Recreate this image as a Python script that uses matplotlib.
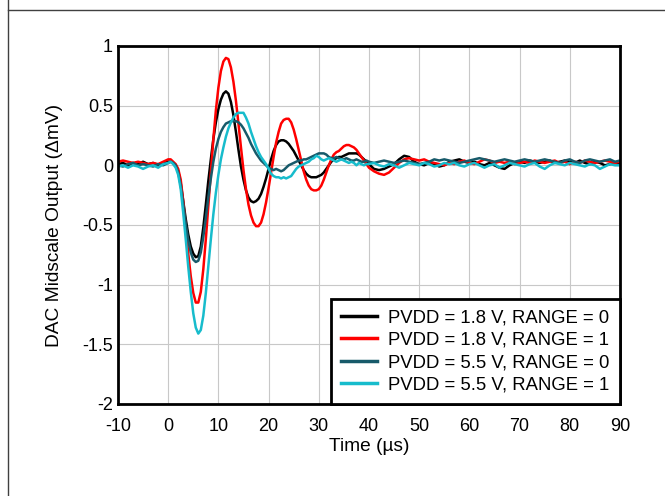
import numpy as np
import matplotlib
matplotlib.use("Agg")
import matplotlib.pyplot as plt
from matplotlib.lines import Line2D

plt.rcParams["font.family"] = ["Liberation Sans", "DejaVu Sans"]
plt.rcParams["axes.unicode_minus"] = False

# time grid (µs): coarse before the step, fine during the transient, coarse tail
time_us = np.concatenate([
    np.arange(-10, 0.5, 1.0),
    np.arange(0.5, 40.25, 0.5),
    np.arange(41, 90.5, 1.0),
])

black_18_r0 = [
    0.01, 0.02, 0.00, 0.02, 0.01, 0.03, 0.01, 0.02, 0.00, 0.02, 0.03,
    0.03, 0.02, 0.00, -0.05, -0.15, -0.30, -0.45, -0.58, -0.68, -0.74,
    -0.77, -0.76, -0.68, -0.52, -0.33, -0.13, 0.05, 0.22, 0.36, 0.47,
    0.55, 0.60, 0.62, 0.60, 0.53, 0.42, 0.28, 0.13, -0.01, -0.12,
    -0.21, -0.27, -0.30, -0.31, -0.30, -0.28, -0.24, -0.18, -0.11, -0.03,
    0.05, 0.12, 0.17, 0.20, 0.21, 0.21, 0.20, 0.18, 0.15, 0.12,
    0.08, 0.04, 0.00, -0.04, -0.07, -0.09, -0.10, -0.10, -0.10, -0.09,
    -0.08, -0.06, -0.03, 0.00, 0.03, 0.05, 0.06, 0.07, 0.07, 0.08,
    0.09, 0.10, 0.10, 0.10, 0.10, 0.09, 0.07, 0.05, 0.03, 0.01,
    -0.03, -0.04, -0.03, -0.01, 0.01, 0.05, 0.08, 0.07, 0.03, 0.01,
    0.00, 0.02, 0.01, -0.01, 0.00, 0.03, 0.04, 0.05, 0.03, 0.02,
    0.03, 0.01, 0.00, 0.02, 0.00, -0.02, -0.03, 0.00, 0.02, 0.03,
    0.02, 0.04, 0.03, 0.02, 0.03, 0.04, 0.02, 0.03, 0.04, 0.03,
    0.02, 0.04, 0.02, 0.01, 0.03, 0.02, 0.00, 0.01, 0.02, 0.01,
]

red_18_r1 = [
    0.03, 0.04, 0.03, 0.02, 0.03, 0.02, 0.01, 0.02, 0.01, 0.03, 0.05,
    0.05, 0.03, 0.01, -0.03, -0.12, -0.30, -0.52, -0.74, -0.93, -1.07,
    -1.15, -1.15, -1.06, -0.87, -0.62, -0.34, -0.05, 0.22, 0.46, 0.65,
    0.79, 0.87, 0.90, 0.89, 0.82, 0.70, 0.54, 0.35, 0.15, -0.04,
    -0.20, -0.33, -0.42, -0.48, -0.51, -0.51, -0.48, -0.41, -0.31, -0.19,
    -0.06, 0.07, 0.19, 0.28, 0.35, 0.38, 0.39, 0.39, 0.36, 0.30,
    0.22, 0.13, 0.04, -0.05, -0.12, -0.17, -0.20, -0.21, -0.21, -0.20,
    -0.17, -0.12, -0.06, 0.00, 0.05, 0.09, 0.11, 0.12, 0.14, 0.16,
    0.17, 0.17, 0.16, 0.15, 0.13, 0.10, 0.07, 0.04, 0.01, -0.02,
    -0.05, -0.07, -0.08, -0.06, -0.02, 0.02, 0.05, 0.06, 0.05, 0.04,
    0.05, 0.03, 0.02, 0.01, 0.00, 0.02, 0.01, 0.03, 0.04, 0.02,
    0.01, 0.03, 0.05, 0.04, 0.02, 0.03, 0.02, 0.03, 0.01, 0.02,
    0.03, 0.02, 0.04, 0.03, 0.02, 0.03, 0.04, 0.02, 0.03, 0.01,
    0.03, 0.02, 0.04, 0.03, 0.02, 0.03, 0.04, 0.03, 0.02, 0.03,
]

teal_55_r0 = [
    0.00, -0.01, 0.01, 0.02, 0.00, 0.01, 0.00, -0.01, 0.01, 0.00, 0.02,
    0.03, 0.02, 0.00, -0.06, -0.17, -0.33, -0.49, -0.63, -0.73, -0.79,
    -0.81, -0.80, -0.73, -0.60, -0.44, -0.27, -0.11, 0.03, 0.14, 0.22,
    0.28, 0.32, 0.35, 0.36, 0.37, 0.37, 0.37, 0.36, 0.34, 0.31,
    0.27, 0.23, 0.18, 0.14, 0.10, 0.07, 0.04, 0.02, 0.00, -0.02,
    -0.03, -0.04, -0.03, -0.04, -0.05, -0.04, -0.02, 0.00, 0.01, 0.02,
    0.03, 0.04, 0.04, 0.05, 0.05, 0.06, 0.07, 0.08, 0.09, 0.10,
    0.10, 0.10, 0.09, 0.07, 0.06, 0.06, 0.07, 0.06, 0.05, 0.05,
    0.06, 0.05, 0.04, 0.04, 0.05, 0.04, 0.03, 0.03, 0.04, 0.03,
    0.02, 0.03, 0.04, 0.03, 0.02, 0.03, 0.04, 0.03, 0.02, 0.01,
    0.02, 0.03, 0.05, 0.04, 0.05, 0.04, 0.03, 0.02, 0.03, 0.04,
    0.05, 0.06, 0.05, 0.04, 0.03, 0.04, 0.05, 0.04, 0.03, 0.04,
    0.05, 0.04, 0.03, 0.04, 0.05, 0.04, 0.03, 0.02, 0.04, 0.05,
    0.03, 0.02, 0.04, 0.05, 0.04, 0.03, 0.04, 0.05, 0.03, 0.04,
]

cyan_55_r1 = [
    -0.01, 0.00, -0.02, 0.00, -0.01, -0.03, -0.01, 0.00, -0.02, 0.01, 0.02,
    0.03, 0.01, -0.02, -0.08, -0.20, -0.40, -0.62, -0.85, -1.06, -1.24,
    -1.36, -1.41, -1.38, -1.26, -1.07, -0.84, -0.62, -0.41, -0.23, -0.08,
    0.05, 0.15, 0.24, 0.31, 0.36, 0.40, 0.43, 0.44, 0.44, 0.44,
    0.40, 0.35, 0.28, 0.22, 0.16, 0.11, 0.07, 0.04, 0.01, -0.03,
    -0.07, -0.09, -0.10, -0.10, -0.11, -0.10, -0.11, -0.10, -0.09, -0.06,
    -0.03, -0.01, 0.00, 0.01, 0.02, 0.03, 0.05, 0.06, 0.08, 0.07,
    0.05, 0.04, 0.05, 0.06, 0.05, 0.04, 0.03, 0.04, 0.05, 0.04,
    0.03, 0.02, 0.03, 0.02, 0.00, 0.02, 0.01, 0.00, 0.01, 0.01,
    0.02, 0.00, -0.01, 0.01, 0.00, -0.02, 0.00, 0.02, 0.01, 0.00,
    0.02, 0.01, -0.01, 0.00, 0.02, 0.01, 0.02, 0.00, -0.01, 0.01,
    0.02, 0.00, -0.02, 0.00, 0.01, -0.02, 0.00, 0.02, 0.01, 0.00,
    -0.01, 0.01, 0.02, -0.01, -0.03, 0.00, 0.02, 0.01, 0.00, 0.02,
    0.01, 0.00, -0.01, 0.01, 0.00, -0.03, -0.01, 0.01, 0.00, 0.00,
]

series = [
    ("PVDD = 1.8 V, RANGE = 0", black_18_r0, "#000000"),
    ("PVDD = 1.8 V, RANGE = 1", red_18_r1, "#ff0000"),
    ("PVDD = 5.5 V, RANGE = 0", teal_55_r0, "#175a6a"),
    ("PVDD = 5.5 V, RANGE = 1", cyan_55_r1, "#17bccc"),
]

fig = plt.figure(figsize=(6.65, 4.96), dpi=100)
ax = fig.add_axes([0.1774, 0.1855, 0.7549, 0.7218])

for label, vals, col in series:
    ax.plot(time_us, vals, color=col, lw=1.8, label=label)

ax.set_xlim(-10, 90)
ax.set_ylim(-2, 1)
ax.set_xticks(np.arange(-10, 91, 10))
ax.set_yticks([-2, -1.5, -1, -0.5, 0, 0.5, 1])
ax.set_yticklabels(["-2", "-1.5", "-1", "-0.5", "0", "0.5", "1"])
ax.tick_params(length=0, labelsize=13)
ax.tick_params(axis="x", pad=10)
ax.tick_params(axis="y", pad=3.5)
ax.grid(True, color="#c8c8c8", lw=0.8)
ax.set_axisbelow(True)
for sp in ax.spines.values():
    sp.set_linewidth(2)

ax.set_xlabel("Time (µs)", fontsize=13.8, va="center")
ax.set_ylabel("DAC Midscale Output (ΔmV)", fontsize=13.8, va="center")
ax.xaxis.set_label_coords(0.5, -0.12)
ax.yaxis.set_label_coords(-0.1255, 0.5)

leg = ax.legend(loc="lower right", bbox_to_anchor=(1, 0), borderaxespad=0,
                fontsize=13.3, frameon=True, fancybox=False, framealpha=1,
                handlelength=1.95, handletextpad=0.6, labelspacing=0.3,
                borderpad=0.55)
leg.get_frame().set_edgecolor("black")
leg.get_frame().set_linewidth(2)
for h in leg.get_lines():
    h.set_linewidth(2.5)

# page frame lines
fig.add_artist(Line2D([8 / 665, 8 / 665], [0, 1], transform=fig.transFigure,
                      color="#404040", lw=1))
fig.add_artist(Line2D([8 / 665, 1], [1 - 10 / 496, 1 - 10 / 496],
                      transform=fig.transFigure, color="#404040", lw=1))

fig.savefig("out.png", dpi=100)
